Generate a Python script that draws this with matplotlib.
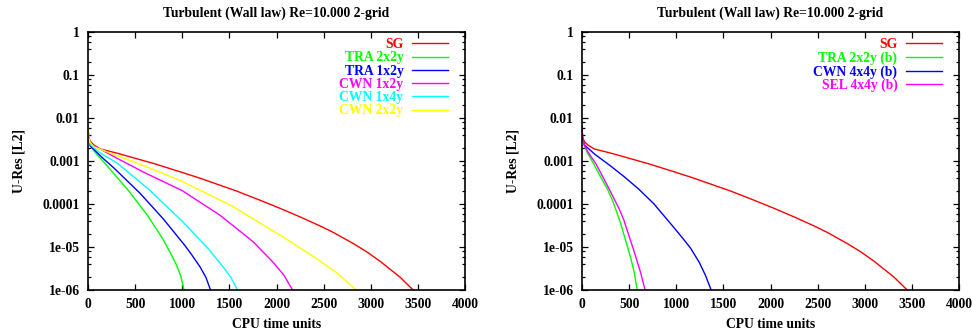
import numpy as np
import matplotlib
matplotlib.use("Agg")
import matplotlib.pyplot as plt
from matplotlib.ticker import FixedLocator, FixedFormatter, NullFormatter

# ---------------- data (y stored as log10 of U-Res) -------------
title = "Turbulent (Wall law) Re=10.000 2-grid"
xlabel = "CPU time units"
ylabel = "U-Res [L2]"

x_ticks = [0, 500, 1000, 1500, 2000, 2500, 3000, 3500, 4000]
y_ticks = [1e-6, 1e-5, 1e-4, 1e-3, 1e-2, 1e-1, 1]
y_tick_labels = ["1e-06", "1e-05", "0.0001", "0.001", "0.01", "0.1", "1"]

sg_x = [0, 7, 25, 64, 130, 311, 700, 976, 1188, 1578, 1800, 2037, 2250, 2462, 2602, 2815,
        2956, 3098, 3310, 3450]
sg_log = [-2.20, -2.45, -2.55, -2.63, -2.72, -2.82, -3.06, -3.25, -3.40, -3.70, -3.89,
          -4.10, -4.30, -4.51, -4.66, -4.92, -5.11, -5.33, -5.70, -6.0]

tra22_x = [0, 7, 25, 100, 198, 430, 630, 790, 870, 941, 985, 1018]
tra22_log = [-2.20, -2.48, -2.66, -2.86, -3.10, -3.69, -4.26, -4.80, -5.12, -5.43, -5.68, -6.0]

tra12_x = [0, 7, 25, 150, 269, 552, 800, 1030, 1100, 1188, 1250, 1300]
tra12_log = [-2.20, -2.48, -2.65, -2.92, -3.15, -3.75, -4.35, -4.97, -5.18, -5.46, -5.70, -6.0]

cwn12_x = [0, 7, 25, 311, 600, 1000, 1400, 1753, 1966, 2080, 2170]
cwn12_log = [-2.20, -2.48, -2.60, -2.94, -3.27, -3.69, -4.26, -4.88, -5.36, -5.66, -6.0]

cwn14_x = [0, 7, 25, 120, 311, 640, 1000, 1280, 1436, 1520, 1585]
cwn14_log = [-2.20, -2.48, -2.62, -2.80, -3.05, -3.65, -4.40, -5.05, -5.47, -5.72, -6.0]

cwn22_x = [0, 7, 25, 64, 311, 584, 976, 1530, 2050, 2391, 2640, 2845]
cwn22_log = [-2.20, -2.47, -2.58, -2.67, -2.88, -3.10, -3.45, -4.05, -4.74, -5.22, -5.60, -6.0]

tra22b_x = [0, 7, 25, 60, 120, 200, 269, 330, 410, 516, 555, 585]
tra22b_log = [-2.20, -2.50, -2.65, -2.82, -3.05, -3.38, -3.65, -3.95, -4.45, -5.25, -5.60, -6.0]

cwn44b_x = [0, 7, 28, 134, 300, 445, 600, 760, 976, 1070, 1153, 1245, 1310, 1370]
cwn44b_log = [-2.20, -2.50, -2.63, -2.84, -3.11, -3.36, -3.65, -3.99, -4.55, -4.80, -5.03,
              -5.36, -5.66, -6.0]

sel44b_x = [0, 7, 25, 60, 149, 269, 396, 445, 552, 620, 669]
sel44b_log = [-2.20, -2.50, -2.63, -2.78, -3.07, -3.57, -4.12, -4.38, -5.10, -5.58, -6.0]

left_series = [
    ("SG", sg_x, sg_log, "#ff0000"),
    ("TRA 2x2y", tra22_x, tra22_log, "#00ff00"),
    ("TRA 1x2y", tra12_x, tra12_log, "#0000ff"),
    ("CWN 1x2y", cwn12_x, cwn12_log, "#ff00ff"),
    ("CWN 1x4y", cwn14_x, cwn14_log, "#00ffff"),
    ("CWN 2x2y", cwn22_x, cwn22_log, "#ffff00"),
]
right_series = [
    ("SG", sg_x, sg_log, "#ff0000"),
    ("TRA 2x2y (b)", tra22b_x, tra22b_log, "#00ff00"),
    ("CWN 4x4y (b)", cwn44b_x, cwn44b_log, "#0000ff"),
    ("SEL 4x4y (b)", sel44b_x, sel44b_log, "#ff00ff"),
]

# ---------------- figure ----------------
plt.rcParams["font.family"] = ["Liberation Serif", "DejaVu Serif"]
plt.rcParams["font.weight"] = "bold"
FS = 9.8

fig = plt.figure(figsize=(9.72, 3.30), dpi=100)
W, H = 972.0, 330.0
panels = [(88, 465, left_series), (582, 959, right_series)]

minor_vals = [m * 10.0 ** e for e in range(-6, 0) for m in (2, 4, 6, 8)]

for (x0, x1, series) in panels:
    ax = fig.add_axes([x0 / W, 1 - 290 / H, (x1 - x0) / W, (290 - 32) / H])
    for label, xs, ls, col in series:
        ax.plot(xs, 10.0 ** np.array(ls), color=col, lw=1.0, label=label,
                solid_joinstyle="round")
    ax.set_yscale("log")
    ax.set_xlim(0, 4000)
    ax.set_ylim(1e-6, 1)
    ax.xaxis.set_major_locator(FixedLocator(x_ticks))
    ax.set_xticklabels([str(t) for t in x_ticks])
    ax.yaxis.set_major_locator(FixedLocator(y_ticks))
    ax.yaxis.set_major_formatter(FixedFormatter(y_tick_labels))
    ax.yaxis.set_minor_locator(FixedLocator(minor_vals))
    ax.yaxis.set_minor_formatter(NullFormatter())
    ax.tick_params(which="both", direction="in", top=True, right=True,
                   labelsize=FS, width=0.9, pad=6)
    ax.tick_params(which="major", length=4)
    ax.tick_params(which="minor", length=2)
    for lab in ax.get_xticklabels() + ax.get_yticklabels():
        lab.set_fontweight("bold")
    for s in ax.spines.values():
        s.set_linewidth(1.2)
    ax.set_title(title, fontsize=FS, fontweight="bold", pad=11)
    ax.set_xlabel(xlabel, fontsize=FS, fontweight="bold", labelpad=5)
    ax.set_ylabel(ylabel, fontsize=FS, fontweight="bold", labelpad=12)
    leg = ax.legend(loc="upper right", bbox_to_anchor=((x1 - 17 - x0) / (x1 - x0), 1 - 6 / 258),
                    frameon=False, markerfirst=False, handlelength=2.65,
                    handletextpad=0.62, labelspacing=0.02, borderpad=0.0,
                    borderaxespad=0.0, fontsize=FS, labelcolor="linecolor")
    for t in leg.get_texts():
        t.set_fontweight("bold")

fig.savefig("out.png", dpi=100)
